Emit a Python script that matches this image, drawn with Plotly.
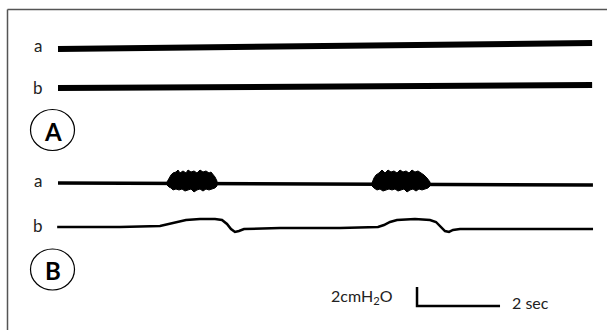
import plotly.graph_objects as go

# ---- data (time in s, pressure in cmH2O, offsets per trace) ----
A_a_t = [0.0, 12.87]
A_a_p = [29.58, 30.21]

A_b_t = [0.0, 12.87]
A_b_p = [25.47, 25.79]

B_a_t = [0.0, 12.89]
B_a_p = [15.47, 15.26]

burst1_t = [2.627, 2.675, 2.723, 2.771, 2.843, 2.892, 2.940, 3.012, 3.084, 3.133, 3.205, 3.277,
            3.349, 3.422, 3.494, 3.566, 3.639, 3.687, 3.735, 3.783, 3.831,
            3.831, 3.783, 3.711, 3.639, 3.566, 3.494, 3.422, 3.349, 3.277, 3.205, 3.133, 3.060,
            2.988, 2.916, 2.843, 2.771, 2.723, 2.675, 2.627, 2.627]
burst1_p = [15.58, 16.00, 16.32, 16.53, 16.63, 16.84, 16.53, 16.74, 16.53, 16.84, 16.63, 16.74,
            16.53, 16.84, 16.63, 16.74, 16.53, 16.63, 16.42, 16.11, 15.68,
            15.16, 14.95, 14.84, 14.74, 14.84, 14.63, 14.84, 14.74, 14.53, 14.84, 14.74, 14.63,
            14.84, 14.74, 14.84, 14.74, 14.95, 15.05, 15.26, 15.58]

burst2_t = [7.566, 7.614, 7.663, 7.735, 7.807, 7.880, 7.952, 8.024, 8.096, 8.169, 8.241, 8.313,
            8.386, 8.458, 8.530, 8.602, 8.675, 8.747, 8.819, 8.892, 8.964,
            8.964, 8.916, 8.843, 8.771, 8.699, 8.627, 8.554, 8.482, 8.410, 8.337, 8.265, 8.193,
            8.120, 8.048, 7.976, 7.904, 7.831, 7.759, 7.687, 7.614, 7.566, 7.566]
burst2_p = [15.47, 16.00, 16.32, 16.53, 16.84, 16.53, 16.84, 16.63, 16.74, 16.53, 16.84, 16.63,
            16.74, 16.53, 16.84, 16.63, 16.74, 16.53, 16.32, 16.00, 15.58,
            15.16, 14.95, 14.84, 14.74, 14.84, 14.63, 14.84, 14.74, 14.53, 14.84, 14.74, 14.63,
            14.84, 14.74, 14.84, 14.74, 14.63, 14.84, 14.74, 14.95, 15.16, 15.47]

B_b_t = [-0.02, 1.494, 2.458, 2.651, 2.843, 3.084, 3.422, 3.783, 3.952, 4.072, 4.169, 4.265,
         4.361, 4.482, 5.349, 6.795, 7.711, 7.855, 8.0, 8.169, 8.602, 8.964, 9.108, 9.229,
         9.325, 9.422, 9.518, 9.687, 11.133, 12.892]
B_b_p = [10.84, 10.84, 10.95, 11.16, 11.37, 11.58, 11.68, 11.68, 11.58, 11.16, 10.63, 10.32,
         10.42, 10.63, 10.74, 10.74, 10.84, 11.05, 11.37, 11.58, 11.68, 11.58, 11.37, 10.84,
         10.42, 10.32, 10.53, 10.63, 10.63, 10.63]

scale_t = [8.651, 8.651, 10.651]
scale_p = [4.53, 2.53, 2.53]

row_labels = ["a", "b", "a", "b"]
row_label_p = [29.95, 25.55, 15.75, 10.95]
panel_labels = ["A", "B"]

FONT = "Lato"

fig = go.Figure()
fig.add_trace(go.Scatter(x=A_a_t, y=A_a_p, mode="lines", line=dict(color="black", width=6)))
fig.add_trace(go.Scatter(x=A_b_t, y=A_b_p, mode="lines", line=dict(color="black", width=6)))
fig.add_trace(go.Scatter(x=B_a_t, y=B_a_p, mode="lines", line=dict(color="black", width=3.5)))
for bt, bp in ((burst1_t, burst1_p), (burst2_t, burst2_p)):
    fig.add_trace(go.Scatter(x=bt, y=bp, mode="lines", fill="toself", fillcolor="black",
                             line=dict(color="black", width=1)))
fig.add_trace(go.Scatter(x=B_b_t, y=B_b_p, mode="lines", line=dict(color="black", width=2.5)))
fig.add_trace(go.Scatter(x=scale_t, y=scale_p, mode="lines", line=dict(color="black", width=2.5)))

annotations = []
for lab, p in zip(row_labels, row_label_p):
    annotations.append(dict(x=-0.48, y=p, xref="x", yref="y", text=lab, showarrow=False,
                            xanchor="center", yanchor="middle",
                            font=dict(family=FONT, size=17, color="#222")))
annotations.append(dict(x=8.12, y=3.5, xref="x", yref="y", text="2cmH<sub>2</sub>O", showarrow=False,
                        xanchor="right", yanchor="middle",
                        font=dict(family=FONT, size=16, color="#222")))
annotations.append(dict(x=10.9, y=2.85, xref="x", yref="y", text="2 sec", showarrow=False,
                        xanchor="left", yanchor="middle",
                        font=dict(family=FONT, size=16, color="#222")))

W, H = 607, 330
shapes = []
circle_centers = [(52.5, 130), (52.5, 269.5)]
for (cx, cy), lab in zip(circle_centers, panel_labels):
    shapes.append(dict(type="circle", xref="paper", yref="paper",
                       x0=(cx - 22) / W, x1=(cx + 22) / W,
                       y0=1 - (cy + 20.5) / H, y1=1 - (cy - 20.5) / H,
                       line=dict(color="black", width=1.2)))
    annotations.append(dict(x=cx / W, y=1 - (cy + 1) / H, xref="paper", yref="paper",
                            text="<b>%s</b>" % lab, showarrow=False,
                            xanchor="center", yanchor="middle",
                            font=dict(family=FONT, size=24, color="black")))
# frame
shapes.append(dict(type="line", xref="paper", yref="paper", x0=7.5 / W, x1=7.5 / W,
                   y0=0, y1=1 - 9.5 / H, line=dict(color="#555", width=1.5)))
shapes.append(dict(type="line", xref="paper", yref="paper", x0=7.5 / W, x1=1,
                   y0=1 - 9.5 / H, y1=1 - 9.5 / H, line=dict(color="#555", width=1.5)))

fig.update_layout(
    width=W, height=H, margin=dict(l=0, r=0, t=0, b=0),
    paper_bgcolor="white", plot_bgcolor="white", showlegend=False,
    xaxis=dict(range=[-58 / 41.5, (607 - 58) / 41.5], visible=False, fixedrange=True),
    yaxis=dict(range=[0, 330 / 9.5], visible=False, fixedrange=True),
    shapes=shapes, annotations=annotations,
)
fig.write_html("out.html", config=dict(displayModeBar=False),
               post_script="document.body.style.margin='0';document.body.style.overflow='hidden';")
